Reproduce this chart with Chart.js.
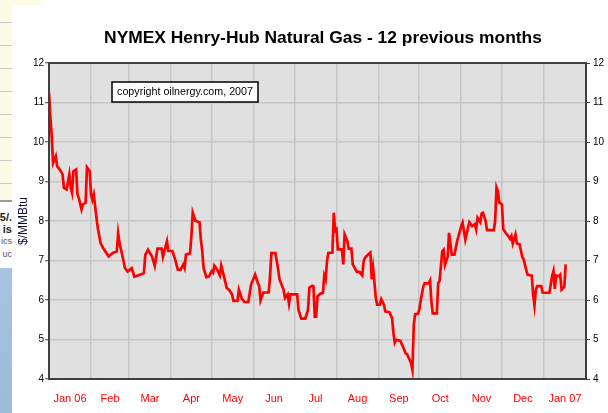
<!DOCTYPE html>
<html>
<head>
<meta charset="utf-8">
<script src="https://cdn.jsdelivr.net/npm/chart.js@4/dist/chart.umd.min.js"></script>
<style>
  html, body { margin: 0; padding: 0; background: #fff; }
  #wrap { position: relative; width: 608px; height: 413px; overflow: hidden; font-family: Arial, "Liberation Sans", sans-serif; }
  #behind { position: absolute; left: 0; top: 0; width: 41px; height: 200px; background: #fbfbe6;
    background-image: repeating-linear-gradient(to bottom, transparent 0, transparent 22px, #c8c8c8 22px, #c8c8c8 23px); }
  #behindAxis { position: absolute; left: 0; top: 200px; width: 12px; height: 2px; background: #9a9a9a; }
  #behindText { position: absolute; left: -18px; top: 211px; width: 30px; text-align: right; white-space: nowrap; }
  #behindText b { display: block; font-size: 11px; line-height: 12px; color: #222; }
  #behindText span { display: block; font-size: 9px; line-height: 13px; color: #555; }
  #blue { position: absolute; left: 0; top: 268px; width: 12px; height: 145px; background: linear-gradient(#a7c3df, #9dbbd9); }
  #card { position: absolute; left: 12px; top: 5px; right: 0; bottom: 0; background: #fff; }
  canvas { position: absolute; left: 0; top: 0; }
</style>
</head>
<body>
<div id="wrap">
  <div id="behind"></div>
  <div id="behindAxis"></div>
  <div id="behindText"><b>05/.</b><b>is</b><span>ics</span><span>uc</span></div>
  <div id="blue"></div>
  <div id="card"></div>
  <canvas id="chart" width="608" height="413"></canvas>
</div>
<script>
// days since 1 Jan 2006
const days = [
  0, 1, 2, 3, 5, 6, 8, 10, 11, 13, 15, 16, 17, 18, 20, 21, 22, 24, 25, 27, 28, 30,
  31, 32, 33, 35, 36, 38, 40, 44, 47, 50, 51, 52, 54, 56, 58,
  61, 63, 67, 70, 71, 73, 76, 78, 80, 83, 84, 87, 88,
  91, 93, 95, 97, 99, 100, 101, 104, 105, 106, 108, 111, 112, 113, 114, 116, 118,
  120, 121, 122, 124, 126, 127, 129, 131, 133, 135, 136, 139, 140, 142, 144, 147, 149,
  152, 154, 155, 156, 158, 162, 163, 164, 167, 169, 170, 173, 174, 176, 177, 178,
  183, 184, 186, 189, 191, 192, 194, 195, 196, 197, 198, 200, 202, 203, 204, 205, 206, 209, 210,
  211, 212, 213, 216, 217, 218, 220, 221, 223, 224, 227, 229, 231, 232, 233, 235, 237, 238, 239, 240, 241,
  242, 244, 245, 247, 248, 251, 253, 254, 255, 256, 259, 261, 263, 264, 266, 267, 268, 269, 270,
  272, 273, 274, 276, 277, 280, 281, 282, 283, 286, 287, 288, 290, 291, 292, 294, 295, 297, 299, 301,
  304, 305, 307, 309, 310, 312, 314, 315, 316, 318, 319, 320, 322, 323, 328, 329, 330, 331, 332,
  334, 335, 337, 339, 340, 341, 342, 344, 345, 347, 349, 350, 352, 353, 356, 357, 358, 359, 360, 363,
  364, 369, 371, 372, 373, 374, 376, 377, 378, 380, 381
];
const prices = [
  11.25, 10.62, 10.15, 9.47, 9.64, 9.39, 9.30, 9.18, 8.84, 8.80, 9.18, 8.84, 8.71, 9.26, 9.30, 8.67, 8.58, 8.29, 8.42, 8.46, 9.36, 9.26,
  8.67, 8.54, 8.67, 8.08, 7.82, 7.44, 7.31, 7.10, 7.19, 7.23, 7.69, 7.44, 7.14, 6.81, 6.72,
  6.81, 6.59, 6.64, 6.68, 7.14, 7.27, 7.10, 6.86, 7.30, 7.30, 7.09, 7.49, 7.24,
  7.24, 7.03, 6.77, 6.77, 6.90, 6.81, 7.15, 7.18, 7.62, 8.21, 8.00, 7.97, 7.53, 7.24, 6.81, 6.58, 6.60,
  6.73, 6.69, 6.87, 6.77, 6.62, 6.87, 6.60, 6.31, 6.25, 6.14, 5.98, 5.98, 6.26, 6.05, 5.95, 5.95, 6.39,
  6.64, 6.43, 6.35, 5.99, 6.19, 6.19, 6.60, 7.19, 7.19, 6.77, 6.52, 6.26, 6.05, 6.14, 5.91, 6.14,
  6.14, 5.75, 5.53, 5.53, 5.75, 6.31, 6.36, 6.35, 5.58, 5.58, 6.09, 6.16, 6.18, 6.62, 6.52, 6.98, 7.19, 7.20, 8.21,
  7.75, 7.79, 7.28, 7.28, 6.90, 7.66, 7.49, 7.30, 7.30, 6.90, 6.71, 6.71, 6.62, 6.98, 7.07, 7.14, 7.20, 6.52, 6.81, 6.44, 6.05,
  5.88, 5.88, 6.02, 5.88, 5.71, 5.69, 5.54, 5.16, 4.92, 4.99, 4.97, 4.82, 4.65, 4.63, 4.48, 4.40, 4.23, 5.37, 5.64,
  5.65, 5.75, 5.96, 6.34, 6.42, 6.42, 6.49, 5.96, 5.66, 5.66, 6.42, 6.48, 7.23, 7.27, 6.89, 7.10, 7.70, 7.15, 7.15, 7.49,
  7.87, 7.96, 7.53, 7.83, 7.97, 7.87, 7.92, 7.79, 8.08, 7.97, 8.19, 8.21, 8.00, 7.77, 7.77, 8.00, 8.85, 8.76, 8.47,
  8.42, 7.79, 7.69, 7.60, 7.55, 7.62, 7.43, 7.66, 7.43, 7.41, 7.09, 7.03, 6.75, 6.64, 6.62, 6.14, 5.86, 6.26, 6.35, 6.35,
  6.19, 6.18, 6.60, 6.73, 6.28, 6.62, 6.60, 6.64, 6.26, 6.33, 6.90
];

// month boundaries (days) and the labels centred between them
const monthStarts = [0, 31, 59, 90, 120, 151, 181, 212, 243, 273, 304, 334, 365, 396];
const monthLabels = ['Jan 06', 'Feb', 'Mar', 'Apr', 'May', 'Jun', 'Jul', 'Aug', 'Sep', 'Oct', 'Nov', 'Dec', 'Jan 07'];

const titleText = 'NYMEX Henry-Hub Natural Gas - 12 previous months';
const noteText = 'copyright oilnergy.com, 2007';

const gridColor = '#c6c6c6';
const axisColor = '#404040';

// grey plot background, frame, title and the copyright box
const decor = {
  id: 'decor',
  beforeDraw(chart) {
    const { ctx, chartArea: a } = chart;
    ctx.save();
    ctx.fillStyle = '#e0e0e0';
    ctx.fillRect(a.left, a.top, a.right - a.left, a.bottom - a.top);
    ctx.restore();
  },
  afterDraw(chart) {
    const { ctx, chartArea: a } = chart;
    ctx.save();
    ctx.strokeStyle = axisColor;
    ctx.lineWidth = 2;
    ctx.strokeRect(a.left, a.top, a.right - a.left, a.bottom - a.top);

    ctx.fillStyle = '#000';
    ctx.font = 'bold 17.4px Arial, "Liberation Sans", sans-serif';
    ctx.textAlign = 'center';
    ctx.textBaseline = 'middle';
    ctx.fillText(titleText, a.left + 274, a.top - 25);

    const bx = a.left + 63, by = a.top + 19, bw = 146, bh = 20;
    ctx.fillStyle = '#fff';
    ctx.fillRect(bx, by, bw, bh);
    ctx.strokeStyle = '#000';
    ctx.lineWidth = 1.5;
    ctx.strokeRect(bx, by, bw, bh);
    ctx.fillStyle = '#000';
    ctx.font = '10.7px Arial, "Liberation Sans", sans-serif';
    ctx.fillText(noteText, bx + bw / 2, by + bh / 2 + 0.5);
    ctx.restore();
  }
};

const yTicks = {
  font: { family: 'Arial, "Liberation Sans", sans-serif', size: 10 },
  color: '#000',
  stepSize: 1
};

new Chart(document.getElementById('chart'), {
  type: 'line',
  data: {
    datasets: [{
      data: days.map((d, i) => ({ x: d, y: prices[i] })),
      borderColor: '#ff0000',
      borderWidth: 2.7,
      pointRadius: 0,
      tension: 0,
      fill: false
    }]
  },
  options: {
    responsive: false,
    animation: false,
    layout: { padding: { left: 12, top: 63, right: 0, bottom: 0 } },
    plugins: { legend: { display: false }, tooltip: { enabled: false } },
    scales: {
      x: {
        type: 'linear',
        min: 0,
        max: 396,
        afterBuildTicks: (scale) => {
          const t = [];
          monthStarts.forEach((d, i) => {
            t.push({ value: d });
            if (i < monthLabels.length) t.push({ value: (d + monthStarts[i + 1]) / 2 });
          });
          scale.ticks = t;
        },
        afterFit: (scale) => { scale.height = 34; },
        ticks: {
          autoSkip: false,
          maxRotation: 0,
          padding: 13,
          color: '#ff0000',
          font: { family: 'Arial, "Liberation Sans", sans-serif', size: 11 },
          callback: (v, i) => (i % 2 === 1 ? monthLabels[(i - 1) / 2] : '')
        },
        grid: {
          color: (c) => (c.index % 2 === 0 ? gridColor : 'rgba(0,0,0,0)'),
          lineWidth: 1.5,
          drawTicks: false
        },
        border: { display: false }
      },
      y: {
        position: 'left',
        min: 4,
        max: 12,
        afterFit: (scale) => { scale.width = 37; },
        ticks: { ...yTicks, padding: 1 },
        grid: { color: gridColor, lineWidth: 1.5, tickLength: 4, tickColor: axisColor, tickWidth: 1 },
        border: { display: false },
        title: {
          display: true,
          text: '$/MMBtu',
          color: '#101040',
          font: { family: 'Arial, "Liberation Sans", sans-serif', size: 12 }
        }
      },
      y2: {
        position: 'right',
        min: 4,
        max: 12,
        afterFit: (scale) => { scale.width = 22; },
        ticks: { ...yTicks, padding: 3 },
        grid: { drawOnChartArea: false, tickLength: 4, tickColor: axisColor, tickWidth: 1 },
        border: { display: false }
      }
    }
  },
  plugins: [decor]
});
</script>
</body>
</html>
